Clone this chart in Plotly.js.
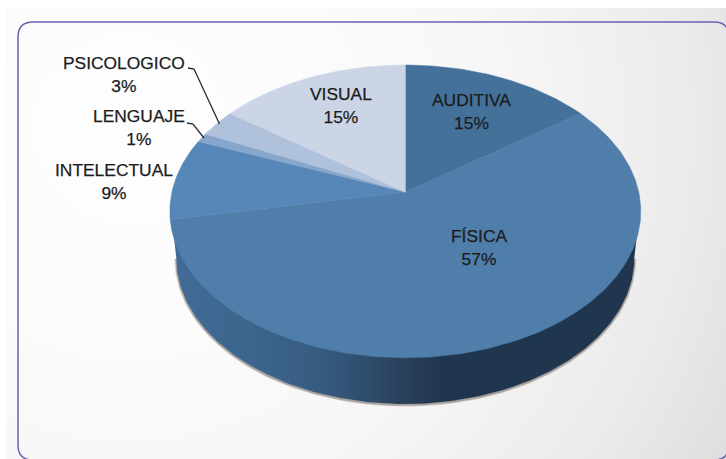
<!DOCTYPE html>
<html>
<head>
<meta charset="utf-8">
<script src="https://cdn.plot.ly/plotly-3.0.1.min.js"></script>
<style>
html,body{margin:0;padding:0;background:#fff;overflow:hidden}
#bg{position:absolute;left:6px;top:8px;width:720px;height:451px;
 background:radial-gradient(circle 700px at 124px 122px,#fefefe 0,#fbfbfb 30%,#f6f6f6 55%,#ebebeb 80%,#dcdcdc 100%)}
#chart{position:absolute;left:0;top:0;width:726px;height:459px}
.annotation-text{stroke:#1c1c1c;stroke-width:0.25px}
</style>
</head>
<body>
<div id="bg"></div>
<div id="chart"></div>
<script>
// Data
var categories = ['AUDITIVA','FÍSICA','INTELECTUAL','LENGUAJE','PSICOLOGICO','VISUAL'];
var values = [15,57,9,1,3,15];

// Styles and placement
var sliceColors = ['#44719a','#4f7eaa','#5787b9','#86a6cb','#afc1db','#cbd5e6'];
var labelX = [471,479,113.5,138.5,123.5,340.5];
var labelY = [111,247,181,127,74,105.5];
var leaderPsicologicoX = [188,194,219.5], leaderPsicologicoY = [68,69,124];
var leaderLenguajeX = [187,193,204], leaderLenguajeY = [123,124,138];

// Projection of the tilted disc (pixels)
var apexX = 405.3, apexY = 192, tiltK = 0.1325, scaleA = 233.4, scaleB = 143.8;
function project(frac){
  var th = frac*2*Math.PI, u = Math.sin(th), v = Math.cos(th), d = 1+tiltK*v;
  return [apexX+scaleA*u/d, apexY-scaleB*v/d];
}
var total = values.reduce(function(a,b){return a+b;},0);
var traces = [];

// Side wall (its upper edge sits a little under the top face)
var rimCx = 405.3, topCy = 209, topRx = 234.5, topRy = 146, rimCy = 258, rimRx = 229, rimRy = 146;
var wallX = [], wallY = [], rimX = [], rimY = [];
for (var i=0;i<=180;i++){ var s=i*Math.PI/180;
  wallX.push(rimCx+topRx*Math.cos(s)); wallY.push(topCy+topRy*Math.sin(s)); }
for (var j=180;j>=0;j--){ var r=j*Math.PI/180;
  var qx=rimCx+rimRx*Math.cos(r), qy=rimCy+rimRy*Math.sin(r);
  wallX.push(qx); wallY.push(qy); rimX.push(qx); rimY.push(qy); }
[[4,0.16],[2.2,0.4]].forEach(function(p){
  traces.push({x:rimX,y:rimY.map(function(y){return y+0.8;}),mode:'lines',hoverinfo:'skip',
    line:{color:'#5c5048',width:p[0]},opacity:p[1],showlegend:false});
});
traces.push({x:wallX,y:wallY,mode:'lines',fill:'toself',hoverinfo:'skip',showlegend:false,
  line:{width:0,color:'rgba(0,0,0,0)'},
  fillgradient:{type:'horizontal',start:170,stop:641,
    colorscale:[[0,'#416c97'],[0.2,'#3c648b'],[0.33,'#365a7e'],[0.42,'#2f4d6c'],[0.5,'#293f5a'],[0.58,'#20364e'],[1,'#20364e']]}});

// Top face slices
var cum = 0;
values.forEach(function(val,k){
  var xs=[apexX], ys=[apexY], n=Math.max(4,Math.round(val*4));
  for (var m=0;m<=n;m++){ var p=project((cum+val*m/n)/total); xs.push(p[0]); ys.push(p[1]); }
  xs.push(apexX); ys.push(apexY);
  traces.push({x:xs,y:ys,mode:'lines',fill:'toself',fillcolor:sliceColors[k],name:categories[k],
    line:{width:0.5,color:sliceColors[k]},hoverinfo:'name',showlegend:false});
  cum += val;
});

// Leader lines
[[leaderPsicologicoX,leaderPsicologicoY],[leaderLenguajeX,leaderLenguajeY]].forEach(function(l){
  traces.push({x:l[0],y:l[1],mode:'lines',hoverinfo:'skip',showlegend:false,line:{color:'#2a2a2a',width:1.3}});
});

var annotations = categories.map(function(c,k){
  return {x:labelX[k],y:labelY[k],xref:'x',yref:'y',text:c+'<br>'+values[k]+'%',showarrow:false,
    xanchor:'center',yanchor:'middle',align:'center',
    font:{family:'"Liberation Sans",Arial,sans-serif',size:17.4,color:'#1c1c1c'}};
});

var layout = {
  width:726,height:459,margin:{l:0,r:0,t:0,b:0},
  paper_bgcolor:'rgba(0,0,0,0)',plot_bgcolor:'rgba(0,0,0,0)',showlegend:false,
  xaxis:{range:[0,726],visible:false,fixedrange:true},
  yaxis:{range:[459,0],visible:false,fixedrange:true},
  annotations:annotations,
  shapes:[{type:'path',xref:'x',yref:'y',layer:'below',
    path:'M 18,37 Q 18,22 33,22 L 714,22 Q 729,22 729,37 L 729,445 Q 729,460 714,460 L 33,460 Q 18,460 18,445 Z',
    line:{color:'#6664ae',width:1.5},fillcolor:'rgba(0,0,0,0)'}]
};
Plotly.newPlot('chart',traces,layout,{displayModeBar:false,responsive:false});
</script>
</body>
</html>
